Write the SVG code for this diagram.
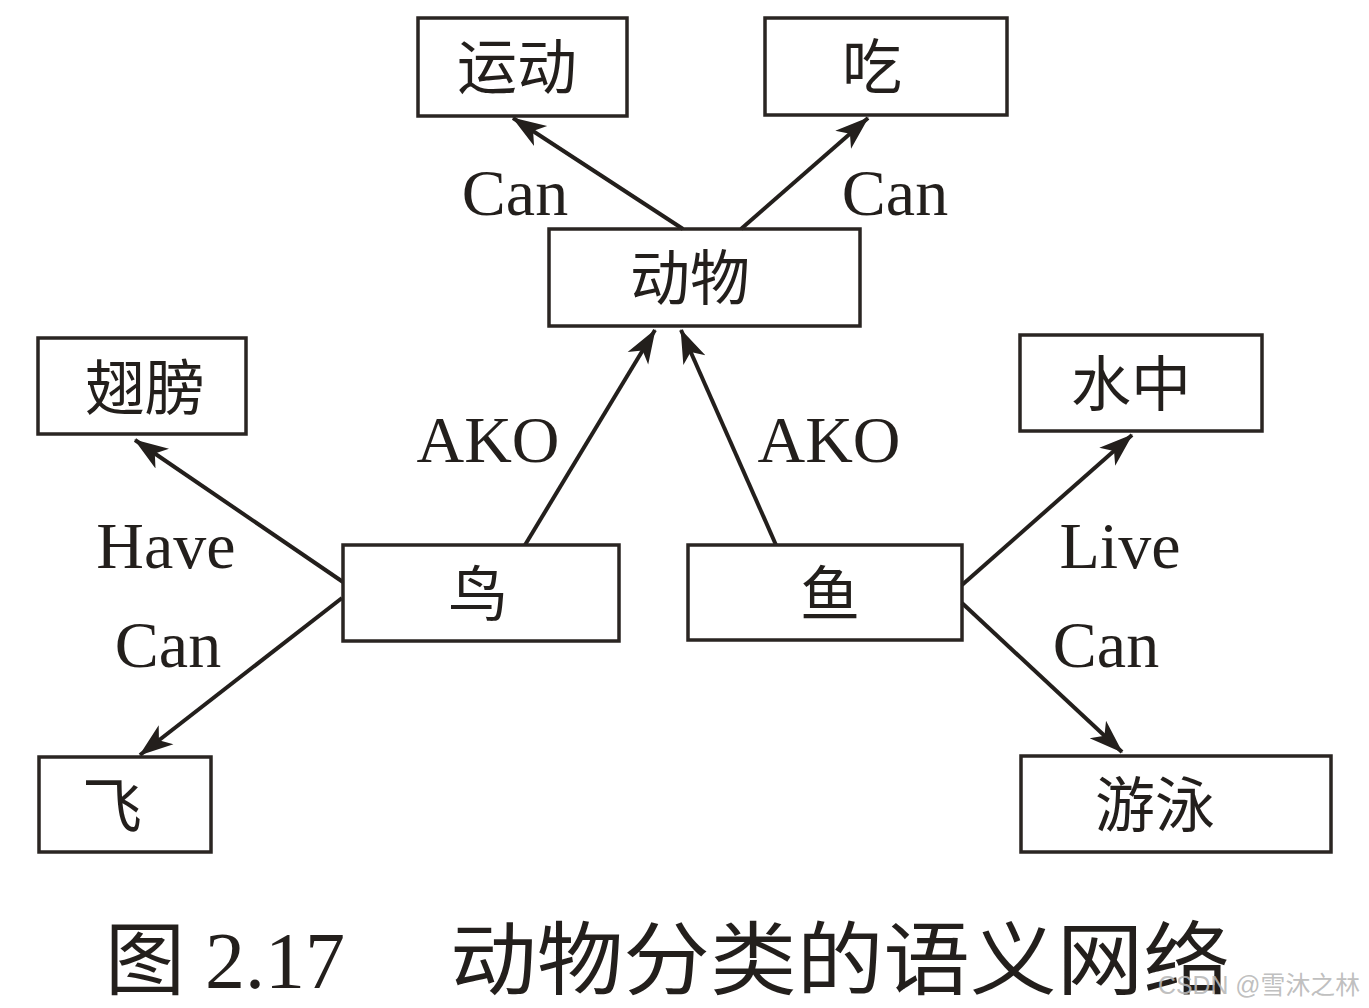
<svg xmlns="http://www.w3.org/2000/svg" width="1369" height="1008" viewBox="0 0 1369 1008">
<style>
.box{fill:none;stroke:#2a2522;stroke-width:3.5}
.cn{font-family:"Noto Sans CJK SC",sans-serif;font-size:60px;fill:#231f1c;text-anchor:middle}
.lb{font-family:"Liberation Serif",serif;font-size:66px;fill:#231f1c;text-anchor:middle}
.ln{stroke:#231f1c;stroke-width:4;fill:none;marker-end:url(#ah)}
.cap{font-family:"Liberation Serif","Noto Sans CJK SC",serif;font-size:80px;fill:#231f1c}
</style>
<defs>
<marker id="ah" markerUnits="userSpaceOnUse" viewBox="0 0 34 26" refX="33" refY="13" markerWidth="34" markerHeight="26" orient="auto">
<path d="M0,1 L34,13 L0,25 L9,13 Z" fill="#231f1c"/>
</marker>
</defs>
<rect width="1369" height="1008" fill="#ffffff"/>
<g id="connectors">
<line class="ln" x1="683" y1="229" x2="513" y2="118"/>
<line class="ln" x1="741" y1="229" x2="868" y2="118"/>
<line class="ln" x1="525" y1="545" x2="655" y2="330"/>
<line class="ln" x1="776" y1="545" x2="681" y2="330"/>
<line class="ln" x1="343" y1="582" x2="135" y2="440"/>
<line class="ln" x1="342" y1="598" x2="140" y2="755"/>
<line class="ln" x1="962" y1="585" x2="1132" y2="435"/>
<line class="ln" x1="962" y1="603" x2="1122" y2="752"/>
<text class="lb" x="515" y="215">Can</text>
<text class="lb" x="895" y="215">Can</text>
<text class="lb" x="488" y="462">AKO</text>
<text class="lb" x="829" y="462">AKO</text>
<text class="lb" x="166" y="568">Have</text>
<text class="lb" x="168" y="667">Can</text>
<text class="lb" x="1120" y="568">Live</text>
<text class="lb" x="1106" y="667">Can</text>
</g>
<g id="n-yundong"><rect class="box" x="418" y="18" width="209" height="98"/><text class="cn" x="517" y="89">运动</text></g>
<g id="n-chi"><rect class="box" x="765" y="18" width="242" height="97"/><text class="cn" x="872" y="89">吃</text></g>
<g id="n-dongwu"><rect class="box" x="549" y="229" width="311" height="97"/><text class="cn" x="690" y="300">动物</text></g>
<g id="n-chibang"><rect class="box" x="38" y="338" width="208" height="96"/><text class="cn" x="145" y="410">翅膀</text></g>
<g id="n-shuizhong"><rect class="box" x="1020" y="335" width="242" height="96"/><text class="cn" x="1131" y="406">水中</text></g>
<g id="n-niao"><rect class="box" x="343" y="545" width="276" height="96"/><text class="cn" x="478" y="616">鸟</text></g>
<g id="n-yu"><rect class="box" x="688" y="545" width="274" height="95"/><text class="cn" x="830" y="616">鱼</text></g>
<g id="n-fei"><rect class="box" x="39" y="757" width="172" height="95"/><text class="cn" x="112" y="828">飞</text></g>
<g id="n-youyong"><rect class="box" x="1021" y="756" width="310" height="96"/><text class="cn" x="1155" y="827">游泳</text></g>
<text class="cap" x="105" y="988">图 2.17</text>
<text class="cap" x="450" y="988" textLength="780" lengthAdjust="spacingAndGlyphs" font-family="Noto Sans CJK SC,sans-serif">动物分类的语义网络</text>
<text x="1158" y="994" font-family="Liberation Sans,Noto Sans CJK SC,sans-serif" font-size="25" fill="#b8b8b8" fill-opacity="0.9" textLength="202" lengthAdjust="spacingAndGlyphs">CSDN @雪沐之林</text>
</svg>
